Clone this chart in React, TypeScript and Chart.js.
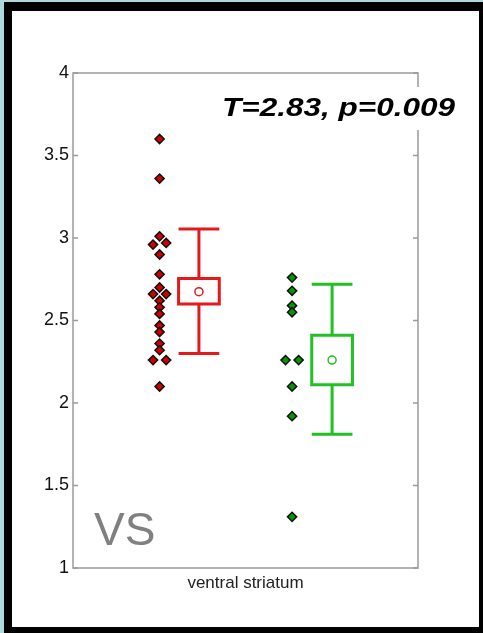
import React, { useEffect, useRef } from 'react';
import { Chart, registerables } from 'chart.js';

Chart.register(...registerables);

// ---- data ----
const categories = ['ventral striatum'];
const groupNames = ['group 1', 'group 2'];
const redValues = [3.6, 3.36, 3.01, 2.96, 2.97, 2.9, 2.78, 2.7, 2.66, 2.66, 2.62, 2.58, 2.54, 2.47, 2.43, 2.36, 2.32, 2.26, 2.26, 2.1];
const greenValues = [2.76, 2.68, 2.59, 2.55, 2.26, 2.26, 2.1, 1.92, 1.31];
const boxLow = [2.3, 1.81];
const boxQ1 = [2.6, 2.11];
const boxMean = [2.675, 2.26];
const boxQ3 = [2.755, 2.41];
const boxHigh = [3.055, 2.72];
const yTicks = [1, 1.5, 2, 2.5, 3, 3.5, 4];
const statText = 'T=2.83, p=0.009';
const regionText = 'VS';

// ---- layout / style constants ----
const RED_LINE = '#e3191c';
const RED_FILL = '#d10000';
const GREEN_LINE = '#22c022';
const GREEN_FILL = '#009a00';
const POINT_X = [0.251, 0.635];
const BOX_X = [0.365, 0.751];
const HALF_W = 0.059;
const JITTER = 0.019;
const FONT = '"Liberation Sans", Arial, Helvetica, sans-serif';

function jitter(values: number[], center: number) {
  return values.map((v, i) => {
    const partner = values.findIndex((w, j) => j !== i && Math.abs(w - v) < 0.015);
    let dx = 0;
    if (partner >= 0) dx = partner > i ? -JITTER : JITTER;
    return { x: center + dx, y: v };
  });
}

function boxPath(g: number) {
  const c = BOX_X[g];
  const l = c - HALF_W;
  const r = c + HALF_W;
  return [
    { x: l, y: boxQ1[g] },
    { x: r, y: boxQ1[g] },
    { x: r, y: boxQ3[g] },
    { x: l, y: boxQ3[g] },
    { x: l, y: boxQ1[g] },
    { x: r, y: boxQ1[g] },
  ];
}

function whiskerPath(g: number) {
  const c = BOX_X[g];
  const l = c - HALF_W;
  const r = c + HALF_W;
  return [
    { x: c, y: boxQ3[g] },
    { x: c, y: boxHigh[g] },
    { x: c, y: null },
    { x: l, y: boxHigh[g] },
    { x: r, y: boxHigh[g] },
    { x: c, y: null },
    { x: c, y: boxQ1[g] },
    { x: c, y: boxLow[g] },
    { x: c, y: null },
    { x: l, y: boxLow[g] },
    { x: r, y: boxLow[g] },
  ];
}

const framePlugin = {
  id: 'frame',
  beforeDraw(chart: any) {
    const { ctx, width, height } = chart;
    ctx.save();
    ctx.fillStyle = '#ffffff';
    ctx.fillRect(0, 0, width, height);
    ctx.restore();
  },
  afterDraw(chart: any) {
    const { ctx, chartArea } = chart;
    const { left, right, top, bottom } = chartArea;
    const y = chart.scales.y;
    ctx.save();
    ctx.strokeStyle = '#9a9a9a';
    ctx.lineWidth = 1.5;
    ctx.strokeRect(left, top, right - left, bottom - top);
    ctx.beginPath();
    yTicks.forEach((v) => {
      const py = y.getPixelForValue(v);
      ctx.moveTo(left, py);
      ctx.lineTo(left + 5, py);
      ctx.moveTo(right, py);
      ctx.lineTo(right - 5, py);
    });
    ctx.stroke();

    // region label
    ctx.fillStyle = '#808080';
    ctx.font = `46px ${FONT}`;
    ctx.textBaseline = 'alphabetic';
    ctx.textAlign = 'left';
    ctx.fillText(regionText, left + 21, bottom - 23);

    // statistic label with white background
    ctx.fillStyle = '#ffffff';
    ctx.fillRect(left + 140, top + 14, 250, 43);
    ctx.font = `italic bold 26px ${FONT}`;
    const w = ctx.measureText(statText).width;
    const sx = 233 / w;
    ctx.translate(left + 149, top + 43);
    ctx.scale(sx, 1);
    ctx.fillStyle = '#000000';
    ctx.fillText(statText, 0, 0);
    ctx.restore();
  },
};

export default function App() {
  const ref = useRef<HTMLCanvasElement | null>(null);

  useEffect(() => {
    if (!ref.current) return;
    const chart = new Chart(ref.current, {
      type: 'scatter',
      data: {
        datasets: [
          {
            label: groupNames[0] + ' mean',
            data: [{ x: BOX_X[0], y: boxMean[0] }],
            pointStyle: 'circle',
            pointRadius: 4,
            backgroundColor: '#ffffff',
            borderColor: RED_LINE,
            borderWidth: 1.5,
          },
          {
            label: groupNames[1] + ' mean',
            data: [{ x: BOX_X[1], y: boxMean[1] }],
            pointStyle: 'circle',
            pointRadius: 4,
            backgroundColor: '#ffffff',
            borderColor: GREEN_LINE,
            borderWidth: 1.5,
          },
          {
            label: groupNames[0] + ' box',
            data: boxPath(0) as any,
            showLine: true,
            pointRadius: 0,
            borderColor: RED_LINE,
            borderWidth: 3,
            borderJoinStyle: 'miter',
          },
          {
            label: groupNames[0] + ' whiskers',
            data: whiskerPath(0) as any,
            showLine: true,
            spanGaps: false,
            pointRadius: 0,
            borderColor: RED_LINE,
            borderWidth: 3,
          },
          {
            label: groupNames[1] + ' box',
            data: boxPath(1) as any,
            showLine: true,
            pointRadius: 0,
            borderColor: GREEN_LINE,
            borderWidth: 3,
            borderJoinStyle: 'miter',
          },
          {
            label: groupNames[1] + ' whiskers',
            data: whiskerPath(1) as any,
            showLine: true,
            spanGaps: false,
            pointRadius: 0,
            borderColor: GREEN_LINE,
            borderWidth: 3,
          },
          {
            label: groupNames[0],
            data: jitter(redValues, POINT_X[0]),
            pointStyle: 'rectRot',
            pointRadius: 4.6,
            backgroundColor: RED_FILL,
            borderColor: '#111111',
            borderWidth: 1.5,
          },
          {
            label: groupNames[1],
            data: jitter(greenValues, POINT_X[1]),
            pointStyle: 'rectRot',
            pointRadius: 4.6,
            backgroundColor: GREEN_FILL,
            borderColor: '#111111',
            borderWidth: 1.5,
          },
        ],
      },
      options: {
        animation: false,
        responsive: false,
        events: [],
        layout: { padding: { left: 0, right: 61, top: 62, bottom: 0 } },
        plugins: {
          legend: { display: false },
          tooltip: { enabled: false },
          title: { display: false },
        },
        scales: {
          x: {
            type: 'linear',
            min: 0,
            max: 1,
            grid: { display: false, drawTicks: false },
            border: { display: false },
            afterBuildTicks: (scale: any) => {
              scale.ticks = [{ value: 0.5 }];
            },
            afterFit: (scale: any) => {
              scale.height = 59;
            },
            ticks: {
              padding: 5,
              color: '#222222',
              font: { family: FONT, size: 17 },
              callback: () => categories[0],
            },
          },
          y: {
            type: 'linear',
            min: 1,
            max: 4,
            grid: { display: false, drawTicks: false },
            border: { display: false },
            afterBuildTicks: (scale: any) => {
              scale.ticks = yTicks.map((v) => ({ value: v }));
            },
            afterFit: (scale: any) => {
              scale.width = 61;
            },
            ticks: {
              padding: 4,
              color: '#111111',
              font: { family: FONT, size: 18 },
              callback: (v: any) => String(v),
            },
          },
        },
      } as any,
      plugins: [framePlugin],
    });
    return () => chart.destroy();
  }, []);

  return (
    <div style={{ position: 'fixed', left: 0, top: 0, width: 483, height: 633, background: '#aed9dd', overflow: 'hidden' }}>
      <div style={{ position: 'absolute', left: 4, top: 2, width: 479, height: 631, background: '#000000' }}>
        <canvas
          ref={ref}
          width={467}
          height={616}
          style={{ position: 'absolute', left: 8, top: 9, width: 467, height: 616, display: 'block' }}
        />
      </div>
    </div>
  );
}
